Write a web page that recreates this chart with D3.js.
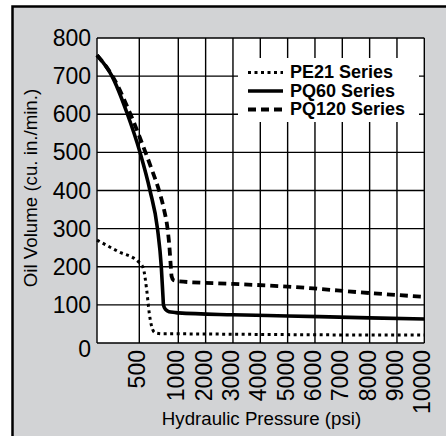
<!DOCTYPE html>
<html>
  <meta charset="utf-8">
  <head>
    <title>Oil Volume vs Hydraulic Pressure</title>
  </head>
  <style>
    body { margin: 0; background: #fff; }
    text { font-family: "Liberation Sans", Arial, Helvetica, sans-serif; fill: #000; }
    .grid line { stroke: #000; stroke-width: 1.4; }
    .series { fill: none; stroke: #000; stroke-linejoin: round; }
  </style>
  <script src="https://d3js.org/d3.v7.min.js"></script>
  <body>
    <svg width="446" height="436"></svg>
    <script>
      // pressure ticks (psi) - axis is piecewise linear
      var xTicks = [500, 1000, 2000, 3000, 4000, 5000, 6000, 7000, 8000, 9000, 10000];
      var yTicks = [0, 100, 200, 300, 400, 500, 600, 700, 800];

      var seriesNames = ["PE21 Series", "PQ60 Series", "PQ120 Series"];

      // [psi, cu. in./min.]
      var pe21 = [[0, 270], [250, 240], [500, 211], [551, 196], [595, 139], [628, 78], [659, 43], [701, 27],
                  [808, 24], [1000, 24], [3000, 23], [5000, 22], [8000, 21], [10000, 21]];
      var pq60 = [[0, 755], [177, 700], [360, 600], [509, 500], [637, 400], [733, 300], [782, 200],
                  [804, 120], [810, 100], [836, 88], [881, 82], [958, 80], [1000, 79], [3000, 74],
                  [5000, 71], [8000, 66], [10000, 63]];
      var pq120 = [[0, 755], [183, 700], [396, 600], [579, 500], [669, 450], [753, 400], [817, 350],
                   [862, 300], [887, 250], [904, 200], [914, 175], [938, 165], [971, 163], [1000, 162],
                   [3000, 155], [5000, 148], [8000, 131], [10000, 121]];

      var svg = d3.select("svg");

      // gray panel with heavy left/top border
      svg.append("rect")
          .attr("x", 12.5).attr("y", 6.5)
          .attr("width", 500).attr("height", 500)
          .attr("fill", "#d2d3d5")
          .attr("stroke", "#000")
          .attr("stroke-width", 2.5);

      var x = d3.scaleLinear()
          .domain([0, 500, 1000, 10000])
          .range([97, 139.3, 178.3, 424.3]);

      var y = d3.scaleLinear()
          .domain([0, 800])
          .range([343, 38]);

      svg.append("rect")
          .attr("x", x(0)).attr("y", y(800))
          .attr("width", x(10000) - x(0)).attr("height", y(0) - y(800))
          .attr("fill", "#fff");

      var grid = svg.append("g").attr("class", "grid");
      grid.selectAll(".v").data([0].concat(xTicks)).enter().append("line")
          .attr("x1", function(d) { return x(d); }).attr("x2", function(d) { return x(d); })
          .attr("y1", y(0)).attr("y2", y(800));
      grid.selectAll(".h").data(yTicks).enter().append("line")
          .attr("y1", function(d) { return y(d); }).attr("y2", function(d) { return y(d); })
          .attr("x1", x(0)).attr("x2", x(10000));

      // legend box covers the grid
      svg.append("rect")
          .attr("x", 238).attr("y", 58)
          .attr("width", 181).attr("height", 64)
          .attr("fill", "#fff");

      var line = d3.line()
          .x(function(d) { return x(d[0]); })
          .y(function(d) { return y(d[1]); })
          .curve(d3.curveMonotoneX);

      var styles = [
        { w: 3, dash: "3,3.5" },
        { w: 3.6, dash: null },
        { w: 3.8, dash: "8,5" }
      ];

      [pe21, pq60, pq120].forEach(function(s, i) {
        svg.append("path")
            .attr("class", "series")
            .attr("d", line(s))
            .attr("stroke-width", styles[i].w)
            .attr("stroke-dasharray", styles[i].dash);
      });

      // legend
      var leg = svg.append("g");
      seriesNames.forEach(function(name, i) {
        var by = 78 + i * 18.5;
        leg.append("line")
            .attr("x1", 248).attr("x2", 283)
            .attr("y1", by - 5.5).attr("y2", by - 5.5)
            .attr("stroke", "#000")
            .attr("stroke-width", styles[i].w)
            .attr("stroke-dasharray", styles[i].dash);
        leg.append("text")
            .attr("x", 290).attr("y", by)
            .attr("font-size", "18px")
            .attr("font-weight", "bold")
            .text(name);
      });

      // y tick labels
      svg.append("g").selectAll("text").data(yTicks).enter().append("text")
          .attr("x", 91)
          .attr("y", function(d) { return y(d) + (d === 0 ? 6 : 0); })
          .attr("dy", "0.35em")
          .attr("text-anchor", "end")
          .attr("font-size", "23px")
          .text(function(d) { return d; });

      // x tick labels, rotated
      svg.append("g").selectAll("text").data(xTicks).enter().append("text")
          .attr("transform", function(d) { return "translate(" + (x(d) - 2) + ",350) rotate(-90)"; })
          .attr("dy", "0.35em")
          .attr("text-anchor", "end")
          .attr("font-size", "23px")
          .text(function(d) { return d; });

      svg.append("text")
          .attr("transform", "translate(37,188) rotate(-90)")
          .attr("text-anchor", "middle")
          .attr("font-size", "18.7px")
          .text("Oil Volume (cu. in./min.)");

      svg.append("text")
          .attr("x", 261.5).attr("y", 425)
          .attr("text-anchor", "middle")
          .attr("font-size", "18.7px")
          .text("Hydraulic Pressure (psi)");
    </script>
  </body>
</html>
